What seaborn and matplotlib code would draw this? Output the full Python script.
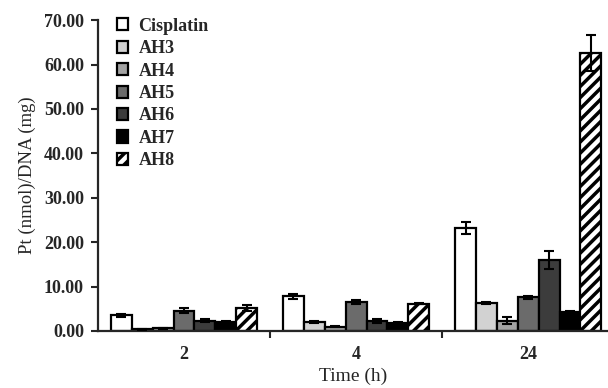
import matplotlib
matplotlib.use("Agg")
import matplotlib.pyplot as plt
import seaborn as sns
import pandas as pd
import numpy as np

times = ["2", "4", "24"]
compounds = ["Cisplatin", "AH3", "AH4", "AH5", "AH6", "AH7", "AH8"]
means = {
    "Cisplatin": [3.5, 7.8, 23.2],
    "AH3": [0.4, 2.0, 6.3],
    "AH4": [0.6, 1.0, 2.3],
    "AH5": [4.6, 6.5, 7.6],
    "AH6": [2.3, 2.2, 16.0],
    "AH7": [2.0, 1.9, 4.2],
    "AH8": [5.2, 6.1, 62.6],
}
errs = {
    "Cisplatin": [0.3, 0.6, 1.4],
    "AH3": [0.1, 0.2, 0.3],
    "AH4": [0.1, 0.1, 0.8],
    "AH5": [0.5, 0.4, 0.3],
    "AH6": [0.3, 0.5, 2.0],
    "AH7": [0.3, 0.2, 0.3],
    "AH8": [0.6, 0.1, 4.0],
}
colors = ["#ffffff", "#d2d2d2", "#a3a3a3", "#6b6b6b", "#3c3c3c", "#000000", "#ffffff"]

rows = []
for c in compounds:
    for t, m in zip(times, means[c]):
        rows.append({"Time": t, "Compound": c, "Value": m})
df = pd.DataFrame(rows)

sns.set_style("ticks")
plt.rcParams["font.family"] = ["Liberation Serif", "DejaVu Serif"]
plt.rcParams["hatch.linewidth"] = 2.5

fig = plt.figure(figsize=(6.08, 3.88), dpi=100)
ax = fig.add_axes([0.161, 0.147, 0.838, 0.801])

sns.barplot(data=df, x="Time", y="Value", hue="Compound", order=times,
            hue_order=compounds, palette=colors, errorbar=None, width=0.85,
            edgecolor="black", linewidth=1.6, ax=ax, legend=True)

for i, c in enumerate(compounds):
    cont = ax.containers[i]
    xs = [p.get_x() + p.get_width() / 2 for p in cont.patches]
    ys = [p.get_height() for p in cont.patches]
    ax.errorbar(xs, ys, yerr=errs[c], fmt="none", ecolor="black",
                elinewidth=1.5, capsize=3.5, capthick=1.5, zorder=3)
    if c == "AH8":
        for p in cont.patches:
            p.set_hatch("///")

ax.set_ylim(0, 70)
ax.set_xlim(-0.5, 2.46)
ax.set_yticks(np.arange(0, 71, 10))
ax.set_yticklabels([f"{v:.2f}" for v in np.arange(0, 71, 10)], fontsize=13, fontweight="bold")
ax.set_xticks([0, 1, 2])
ax.set_xticklabels(times, fontsize=13, fontweight="bold")
ax.tick_params(axis="x", which="major", length=0, pad=11)
ax.set_xticks([0.5, 1.5], minor=True)
ax.tick_params(axis="x", which="minor", length=5, width=1.5, direction="out")
ax.tick_params(axis="y", length=5, width=1.5, direction="out", pad=5)
for s in ["left", "bottom"]:
    ax.spines[s].set_linewidth(1.6)
sns.despine(ax=ax)

ax.set_xlabel("Time (h)", fontsize=14, labelpad=3)
ax.set_ylabel("Pt (nmol)/DNA (mg)", fontsize=13.5, labelpad=6)

handles, labels = ax.get_legend_handles_labels()
leg = ax.legend(handles, labels, loc="upper left", bbox_to_anchor=(0.005, 1.06),
                frameon=False, handlelength=0.65, handleheight=0.65,
                handletextpad=0.55, labelspacing=0.3,
                prop={"weight": "bold", "size": 13})
for h in leg.legend_handles:
    h.set_linewidth(1.6)
leg.legend_handles[-1].set_hatch("///")
leg.legend_handles[-1].set_facecolor("#ffffff")

fig.savefig("out.png", dpi=100)
